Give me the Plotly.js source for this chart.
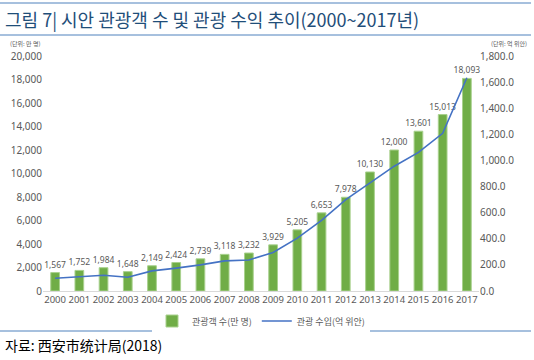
<!DOCTYPE html>
<html>
<head>
<meta charset="utf-8">
<script src="https://cdn.plot.ly/plotly-3.0.1.min.js"></script>
<style>
html,body{margin:0;padding:0;background:#fff;}
#chart{width:534px;height:360px;}
</style>
</head>
<body>
<div id="chart"></div>
<script>
const years = ['2000','2001','2002','2003','2004','2005','2006','2007','2008','2009','2010','2011','2012','2013','2014','2015','2016','2017'];
const visitors = [1567,1752,1984,1648,2149,2424,2739,3118,3232,3929,5205,6653,7978,10130,12000,13601,15013,18093];
const revenue = [98,108,121,105,154,175,200,231,238,295,405,541,700,828,956,1062,1208,1633];
const visitorName = '관광객 수(만 명)';
const revenueName = '관광 수입(억 위안)';

const font = '"Noto Sans CJK KR", "Noto Sans", sans-serif';
const numFont = '"Noto Sans", "DejaVu Sans", sans-serif';

const traces = [
  {
    type: 'bar',
    x: years,
    y: visitors,
    name: visitorName,
    marker: {color: '#70AD47', line: {color: '#A9D18E', width: 1}},
    width: 0.36,
    text: visitors.map(v => v.toLocaleString('en-US')),
    textposition: 'outside',
    constraintext: 'none',
    textangle: 0,
    cliponaxis: false,
    textfont: {size: 8.5, color: '#595959', family: numFont},
    hoverinfo: 'skip'
  },
  {
    type: 'scatter',
    mode: 'lines',
    x: years,
    y: revenue,
    name: revenueName,
    yaxis: 'y2',
    line: {color: '#4472C4', width: 1.6},
    hoverinfo: 'skip'
  }
];

const layout = {
  width: 534,
  height: 360,
  margin: {l: 43, r: 55, t: 56, b: 69},
  paper_bgcolor: '#fff',
  plot_bgcolor: '#fff',
  font: {family: font, color: '#595959'},
  showlegend: true,
  legend: {
    orientation: 'h',
    x: 0.5, xanchor: 'center',
    y: -(321-291)/235, yanchor: 'middle',
    font: {size: 9, color: '#595959', family: font},
    traceorder: 'normal',
    itemwidth: 30
  },
  xaxis: {
    type: 'category',
    showgrid: false,
    showline: true,
    linecolor: '#D9D9D9',
    linewidth: 1,
    ticks: '',
    tickangle: 0,
    tickfont: {size: 9.5, color: '#595959', family: numFont},
    zeroline: false,
    fixedrange: true
  },
  yaxis: {
    range: [0, 20000],
    dtick: 2000,
    tickformat: ',d',
    showgrid: false,
    zeroline: false,
    showline: false,
    ticks: '',
    tickfont: {size: 10, color: '#595959', family: numFont},
    fixedrange: true
  },
  yaxis2: {
    overlaying: 'y',
    side: 'right',
    range: [0, 1800],
    dtick: 200,
    tickformat: ',.1f',
    showgrid: false,
    zeroline: false,
    showline: false,
    ticks: '',
    tickfont: {size: 10, color: '#595959', family: numFont},
    fixedrange: true
  },
  shapes: [
    {type: 'line', xref: 'paper', yref: 'paper', x0: -43/436, x1: 531/436 - 43/436, y0: 1 + (56-3)/235, y1: 1 + (56-3)/235, line: {color: '#4F81BD', width: 1}},
    {type: 'line', xref: 'paper', yref: 'paper', x0: -43/436, x1: 531/436 - 43/436, y0: 1 + (56-35)/235, y1: 1 + (56-35)/235, line: {color: '#4F81BD', width: 1}},
    {type: 'line', xref: 'paper', yref: 'paper', x0: -43/436, x1: 531/436 - 43/436, y0: -(331-291)/235, y1: -(331-291)/235, line: {color: '#4F81BD', width: 1}}
  ],
  annotations: [
    {xref: 'paper', yref: 'paper', x: -40/436, y: 1 + (56-19)/235, xanchor: 'left', yanchor: 'middle',
     text: '그림 7| 시안 관광객 수 및 관광 수익 추이(2000~2017년)', showarrow: false,
     font: {size: 18, color: '#1F4E79', family: font}},
    {xref: 'paper', yref: 'paper', x: -35/436, y: 1 + (56-43)/235, xanchor: 'left', yanchor: 'middle',
     text: '(단위: 만 명)', showarrow: false, font: {size: 6, color: '#595959', family: font}},
    {xref: 'paper', yref: 'paper', x: 1 + 50/436, y: 1 + (56-43)/235, xanchor: 'right', yanchor: 'middle',
     text: '(단위: 억 위안)', showarrow: false, font: {size: 6, color: '#595959', family: font}},
    {xref: 'paper', yref: 'paper', x: -40/436, y: -(345-291)/235, xanchor: 'left', yanchor: 'middle',
     text: '자료: 西安市统计局(2018)', showarrow: false, font: {size: 14, color: '#000000', family: font}}
  ]
};

Plotly.newPlot('chart', traces, layout, {displayModeBar: false, staticPlot: true});
</script>
</body>
</html>
